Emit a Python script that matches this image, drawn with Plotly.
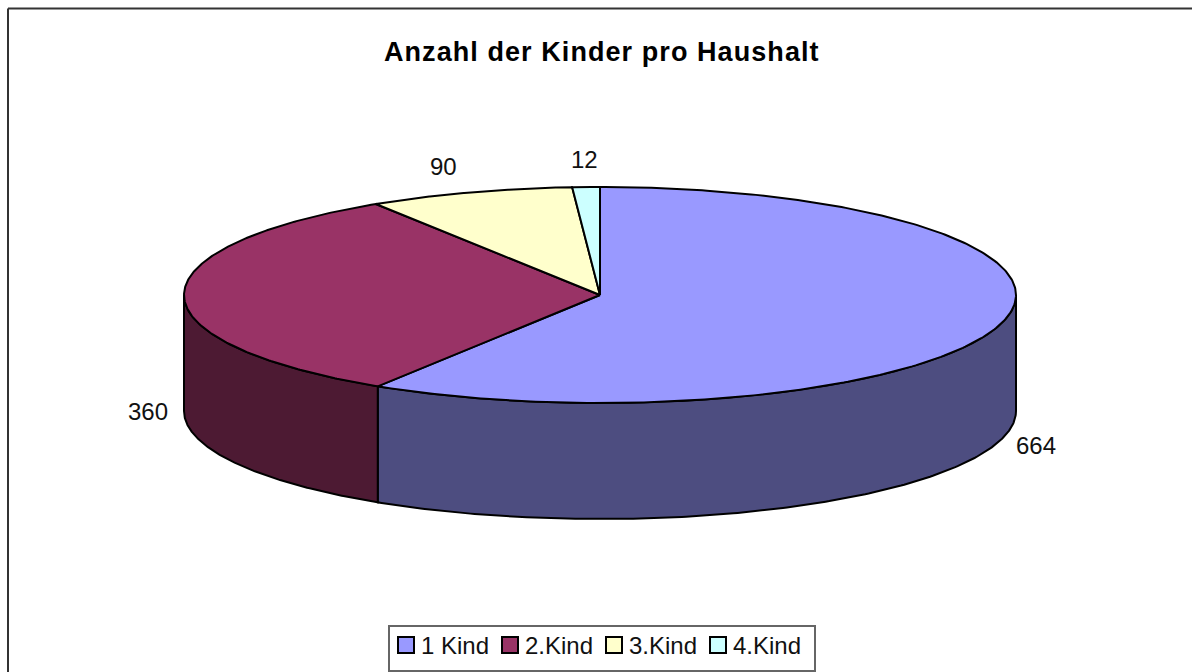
import numpy as np
import plotly.graph_objects as go

title = "Anzahl der Kinder pro Haushalt"
categories = ["1 Kind", "2.Kind", "3.Kind", "4.Kind"]
values = [664, 360, 90, 12]
top_colors = ["#9999FF", "#993366", "#FFFFCC", "#CCFFFF"]
side_colors = ["#4D4D80", "#4D1A33", "#808066", "#668080"]

W, H = 1192, 672
CX, CY, RX, RY, DEPTH = 600, 295, 416, 108, 116

def ex(t):
    return CX + RX * np.sin(t)

def ey(t):
    return CY - RY * np.cos(t)

fracs = np.array(values) / sum(values)
edges = np.concatenate([[0], np.cumsum(fracs)]) * 2 * np.pi

fig = go.Figure()
line = dict(color="black", width=2)

# Side walls: only the front half of the ellipse (90 to 270 degrees) is visible
for i, cat in enumerate(categories):
    a = max(edges[i], np.pi / 2)
    b = min(edges[i + 1], 3 * np.pi / 2)
    if a >= b:
        continue
    t = np.linspace(a, b, 200)
    xs = np.concatenate([ex(t), ex(t[::-1])])
    ys = np.concatenate([ey(t), ey(t[::-1]) + DEPTH])
    fig.add_trace(go.Scatter(x=np.append(xs, xs[0]), y=np.append(ys, ys[0]), mode="lines",
                             fill="toself", fillcolor=side_colors[i], line=line,
                             showlegend=False, hoverinfo="skip"))

# Top slices
for i, cat in enumerate(categories):
    t = np.linspace(edges[i], edges[i + 1], 300)
    xs = np.concatenate([[CX], ex(t), [CX]])
    ys = np.concatenate([[CY], ey(t), [CY]])
    fig.add_trace(go.Scatter(x=xs, y=ys, mode="lines", fill="toself", fillcolor=top_colors[i],
                             line=line, showlegend=False, name=cat))

# Legend entries
for i, cat in enumerate(categories):
    fig.add_trace(go.Scatter(x=[None], y=[None], mode="markers", name=cat,
                             marker=dict(symbol="square", size=16, color=top_colors[i],
                                         line=dict(color="black", width=2))))

label_pos = [(1036, 445), (148, 411), (443, 166), (584, 159)]
for v, (lx, ly) in zip(values, label_pos):
    fig.add_annotation(x=lx, y=ly, text=str(v), showarrow=False,
                       font=dict(family="Liberation Sans", size=24, color="#111111"))

fig.add_annotation(x=602, y=52, text=f"<b>{title}</b>", showarrow=False,
                   font=dict(family="Liberation Sans", size=27, color="black"))

fig.add_shape(type="line", x0=8, x1=8, y0=8.5, y1=H, line=dict(color="#333333", width=2))
fig.add_shape(type="line", x0=8, x1=W, y0=8.5, y1=8.5, line=dict(color="#333333", width=2))

fig.update_layout(
    width=W, height=H, margin=dict(l=0, r=0, t=0, b=0, autoexpand=False),
    paper_bgcolor="white", plot_bgcolor="white",
    xaxis=dict(visible=False, range=[0, W], fixedrange=True),
    yaxis=dict(visible=False, range=[H, 0], fixedrange=True),
    legend=dict(orientation="h", x=388 / W, y=1 - 625 / H, xanchor="left", yanchor="top",
                bgcolor="white", bordercolor="#666666", borderwidth=2,
                font=dict(family="Liberation Sans", size=24, color="#111111"),
                itemwidth=30, entrywidth=59, entrywidthmode="pixels"),
)

post = """
document.body.style.margin='0';document.body.style.overflow='hidden';
function tidy(){
  document.querySelectorAll('.annotation-text').forEach(function(t){
    if(t.textContent.indexOf('Anzahl')===0){t.style.letterSpacing='1.07px';}
  });
  document.querySelectorAll('.legend .traces').forEach(function(g){
    if(g.dataset.tidy){return;} g.dataset.tidy='1';
    var s=g.querySelector('.legendsymbols'); if(s){s.setAttribute('transform','translate(-4,-4)');}
    var t=g.querySelector('.legendtext');
    if(t){t.setAttribute('x',parseFloat(t.getAttribute('x'))-9);t.setAttribute('y',parseFloat(t.getAttribute('y')||0)-4);}
  });
  var bg=document.querySelector('.legend .bg'); if(bg){bg.setAttribute('width',426);bg.setAttribute('height',45);}
}
tidy(); setTimeout(tidy,100);
"""
fig.write_html("out.html", post_script=post, config=dict(displayModeBar=False))
